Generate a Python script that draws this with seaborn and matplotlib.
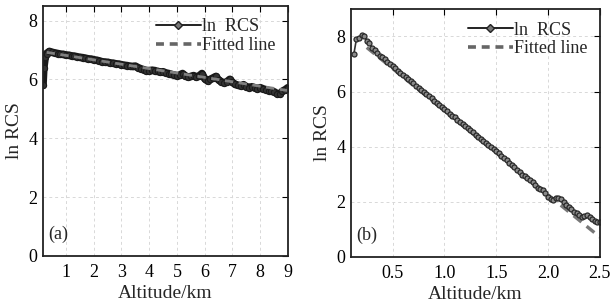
import numpy as np
import pandas as pd
import matplotlib
matplotlib.use("Agg")
import matplotlib.pyplot as plt
import seaborn as sns
from matplotlib.lines import Line2D

# ---- data panel (a) ----
alt_a = [0.17, 0.2, 0.25, 0.3, 0.4, 0.5, 0.6, 0.7, 0.8, 0.9, 1.0, 1.1, 1.2, 1.3, 1.4, 1.5,
         1.6, 1.7, 1.8, 1.9, 2.0, 2.1, 2.2, 2.3, 2.4, 2.5, 2.6, 2.7, 2.8, 2.9, 3.0, 3.1,
         3.2, 3.3, 3.4, 3.5, 3.6, 3.7, 3.8, 3.9, 4.0, 4.1, 4.2, 4.3, 4.4, 4.5, 4.6, 4.7,
         4.8, 4.9, 5.0, 5.1, 5.2, 5.3, 5.4, 5.5, 5.6, 5.7, 5.8, 5.9, 6.0, 6.1, 6.2, 6.3,
         6.4, 6.5, 6.6, 6.7, 6.8, 6.9, 7.0, 7.1, 7.2, 7.3, 7.4, 7.5, 7.6, 7.7, 7.8, 7.9,
         8.0, 8.1, 8.2, 8.3, 8.4, 8.5, 8.6, 8.7, 8.8, 8.9, 9.0]
lnrcs_a = [5.8, 6.4, 6.75, 6.88, 6.95, 6.92, 6.9, 6.88, 6.86, 6.85, 6.83, 6.82, 6.8, 6.79, 6.77, 6.75,
           6.74, 6.72, 6.70, 6.69, 6.67, 6.65, 6.63, 6.60, 6.59, 6.58, 6.56, 6.55, 6.53, 6.52, 6.50, 6.48,
           6.47, 6.45, 6.44, 6.45, 6.40, 6.36, 6.33, 6.30, 6.30, 6.31, 6.30, 6.27, 6.25, 6.26, 6.22, 6.20,
           6.17, 6.15, 6.12, 6.15, 6.20, 6.12, 6.08, 6.10, 6.13, 6.08, 6.12, 6.20, 6.02, 5.95, 6.00, 6.05,
           6.10, 5.98, 5.92, 5.88, 5.92, 6.00, 5.90, 5.83, 5.80, 5.78, 5.82, 5.75, 5.72, 5.75, 5.72, 5.68,
           5.72, 5.68, 5.65, 5.62, 5.60, 5.58, 5.52, 5.50, 5.60, 5.65, 5.72]
fit_alt_a = [0.3, 9.0]
fit_a = [6.92, 5.62]

# ---- data panel (b) ----
alt_b = [0.125, 0.15, 0.175, 0.2, 0.225, 0.25, 0.275, 0.3, 0.325, 0.35, 0.375, 0.4,
         0.425, 0.45, 0.475, 0.5, 0.525, 0.55, 0.575, 0.6, 0.625, 0.65, 0.675, 0.7,
         0.725, 0.75, 0.775, 0.8, 0.825, 0.85, 0.875, 0.9, 0.925, 0.95, 0.975, 1.0,
         1.025, 1.05, 1.075, 1.1, 1.125, 1.15, 1.175, 1.2, 1.225, 1.25, 1.275, 1.3,
         1.325, 1.35, 1.375, 1.4, 1.425, 1.45, 1.475, 1.5, 1.525, 1.55, 1.575, 1.6,
         1.625, 1.65, 1.675, 1.7, 1.725, 1.75, 1.775, 1.8, 1.825, 1.85, 1.875, 1.9,
         1.925, 1.95, 1.975, 2.0, 2.025, 2.05, 2.075, 2.1, 2.125, 2.15, 2.175, 2.2,
         2.225, 2.25, 2.275, 2.3, 2.325, 2.35, 2.375, 2.4, 2.425, 2.45, 2.475, 2.5]
lnrcs_b = [7.35, 7.9, 7.95, 8.05, 8.0, 7.85, 7.75, 7.6, 7.5, 7.4, 7.3, 7.25,
           7.17, 7.08, 7.0, 6.92, 6.84, 6.76, 6.68, 6.6, 6.52, 6.44, 6.37, 6.3,
           6.22, 6.14, 6.07, 5.99, 5.9, 5.83, 5.76, 5.67, 5.6, 5.52, 5.44, 5.37,
           5.29, 5.2, 5.13, 5.06, 4.98, 4.9, 4.83, 4.75, 4.68, 4.6, 4.52, 4.43,
           4.36, 4.28, 4.2, 4.13, 4.06, 3.99, 3.92, 3.85, 3.76, 3.66, 3.58, 3.5,
           3.42, 3.34, 3.25, 3.15, 3.07, 2.98, 2.92, 2.85, 2.8, 2.72, 2.6, 2.5,
           2.45, 2.42, 2.32, 2.18, 2.1, 2.05, 2.12, 2.15, 2.1, 2.0, 1.9, 1.8,
           1.72, 1.62, 1.58, 1.52, 1.45, 1.48, 1.52, 1.45, 1.38, 1.3, 1.27, 1.25]
fit_alt_b = [0.25, 2.5]
fit_b = [7.6, 0.72]

xticks_a = [1, 2, 3, 4, 5, 6, 7, 8, 9]
xticks_b = [0.5, 1.0, 1.5, 2.0, 2.5]
xticklabels_b = ["0.5", "1.0", "1.5", "2.0", "2.5"]
yticks = [0, 2, 4, 6, 8]
legend_labels = ["ln  RCS", "Fitted line"]

sns.set_theme(style="white")
plt.rcParams['font.family'] = ['Liberation Serif', 'DejaVu Serif']

fig = plt.figure(figsize=(6.14, 3.08), dpi=100)
ax_a = fig.add_axes([0.070, 0.169, 0.399, 0.812])
ax_b = fig.add_axes([0.572, 0.166, 0.405, 0.805])

def style(ax, xlim, ylim, xt, xtl, tag):
    ax.set_xlim(*xlim)
    ax.set_ylim(*ylim)
    ax.set_xticks(xt)
    ax.set_xticklabels(xtl)
    ax.set_yticks(yticks)
    ax.grid(True, color="#d8d8d8", linestyle=(0, (3, 3)), linewidth=0.7)
    ax.tick_params(direction="in", length=4, width=0.8, top=True, right=True,
                   labelsize=13, colors="black", pad=4)
    ax.tick_params(axis='x', pad=6)
    for s in ax.spines.values():
        s.set_color("#222222")
        s.set_linewidth(1.3)
    ax.set_xlabel("Altitude/km", fontsize=14, labelpad=3)
    ax.set_ylabel("ln RCS", fontsize=14, labelpad=4)
    ax.text(0.02, 0.05, tag, transform=ax.transAxes, fontsize=13, va="bottom", ha="left")
    h1 = Line2D([], [], color="#222222", lw=1.4, marker="D", markersize=4,
                markerfacecolor="#777777", markeredgecolor="#222222")
    h2 = Line2D([], [], color="#666666", lw=2.6, linestyle=(0, (2.2, 1.6)))
    ax.legend([h1, h2], legend_labels, loc="upper right", frameon=False,
              fontsize=13, handlelength=2.5, handletextpad=0.05, borderaxespad=0.3,
              labelspacing=0.1, numpoints=1)

# panel (a)
sns.lineplot(x=alt_a, y=lnrcs_a, ax=ax_a, color="#1a1a1a", lw=5.5, marker="o",
             markersize=4.5, markeredgecolor="#1a1a1a", markerfacecolor="#333333",
             markeredgewidth=0.8, estimator=None, sort=False)
sns.lineplot(x=fit_alt_a, y=fit_a, ax=ax_a, color="#808080", lw=2.0,
             linestyle=(0, (3, 2)), estimator=None)
style(ax_a, (0.17, 9.0), (0, 8.5), xticks_a, [str(t) for t in xticks_a], "(a)")

# panel (b)
sns.lineplot(x=fit_alt_b, y=fit_b, ax=ax_b, color="#777777", lw=2.4,
             linestyle=(0, (3, 2)), estimator=None)
sns.lineplot(x=alt_b, y=lnrcs_b, ax=ax_b, color="#333333", lw=1.2, marker="o",
             markersize=3.6, markeredgecolor="#2a2a2a", markerfacecolor="#8a8a8a",
             markeredgewidth=0.9, estimator=None, sort=False)
style(ax_b, (0.1, 2.5), (0, 9.0), xticks_b, xticklabels_b, "(b)")

fig.savefig("out.png", dpi=100)
